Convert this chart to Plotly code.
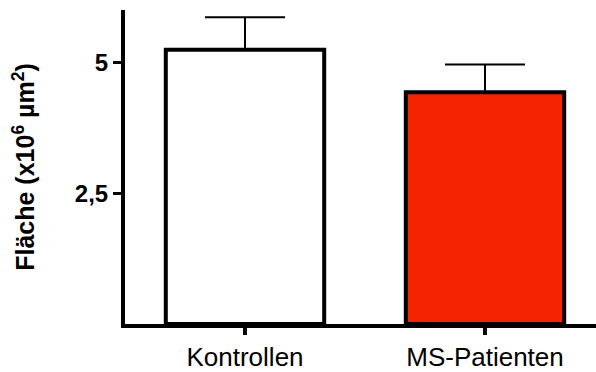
import plotly.graph_objects as go

categories = ["Kontrollen", "MS-Patienten"]
values = [5.24, 4.43]
errors_plus = [0.62, 0.53]
bar_colors = ["#FFFFFF", "#F42400"]
y_tickvals = [2.5, 5]
y_ticktext = ["2,5", "5"]

FONT = "Liberation Sans, Arial, Helvetica, sans-serif"

fig = go.Figure()
fig.add_trace(go.Bar(
    x=[0, 1],
    y=values,
    width=0.66,
    marker=dict(color=bar_colors, line=dict(color="black", width=4)),
    error_y=dict(type="data", symmetric=False, array=errors_plus,
                 arrayminus=[0, 0], color="black", thickness=2, width=40),
    showlegend=False,
    hoverinfo="skip",
))

fig.update_layout(
    width=596, height=372,
    margin=dict(l=125, r=0, t=10, b=44),
    paper_bgcolor="white", plot_bgcolor="white",
    font=dict(family=FONT, color="black"),
    xaxis=dict(
        range=[-0.5, 1.4625],
        tickvals=[0, 1], ticktext=categories,
        tickfont=dict(size=26, family=FONT),
        showgrid=False, zeroline=False,
        showline=True, linecolor="black", linewidth=4,
        ticks="outside", ticklen=7, tickwidth=4, tickcolor="black",
    ),
    yaxis=dict(
        range=[0, 6],
        tickvals=y_tickvals, ticktext=y_ticktext,
        tickfont=dict(size=24, family=FONT, weight="bold"),
        showgrid=False, zeroline=False,
        showline=True, linecolor="black", linewidth=4,
        ticks="outside", ticklen=8, tickwidth=3, tickcolor="black",
        title=dict(text="<b>Fläche (x10<sup>6</sup> µm<sup>2</sup>)</b>",
                   font=dict(size=25, family=FONT), standoff=34),
    ),
)

fig.write_html("out.html")
